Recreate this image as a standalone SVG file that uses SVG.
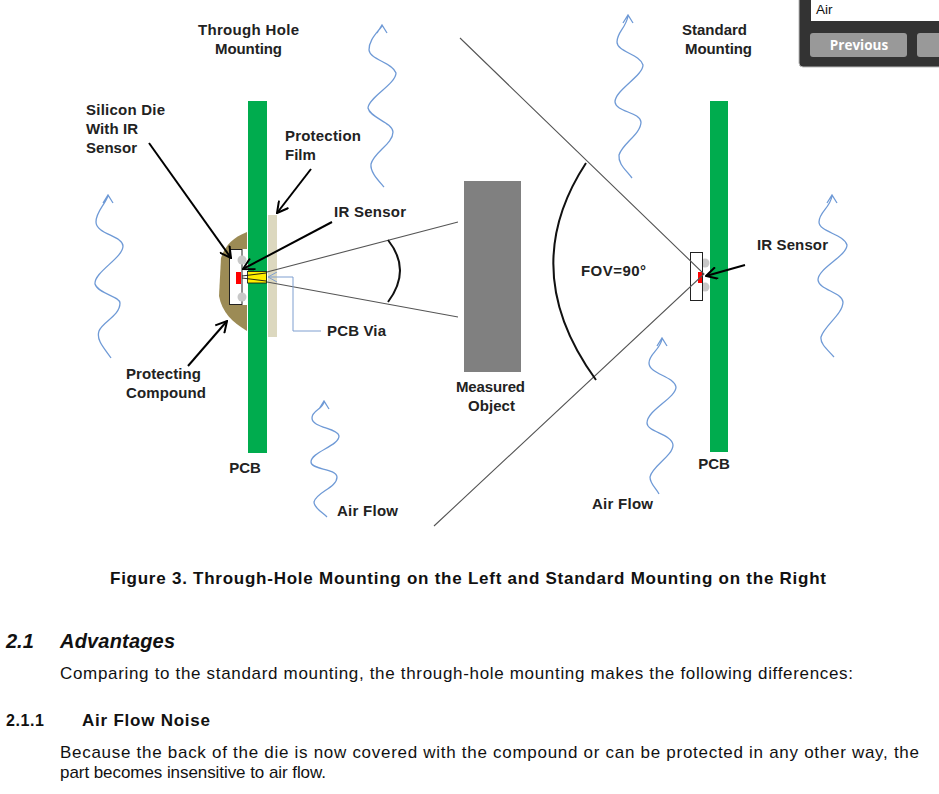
<svg xmlns="http://www.w3.org/2000/svg" width="939" height="794" viewBox="0 0 939 794">
<defs>
<marker id="big" markerWidth="13" markerHeight="13" refX="12" refY="6" orient="auto" markerUnits="userSpaceOnUse" viewBox="0 0 13 12"><path d="M1 0L12 6L1 12" fill="none" stroke="#000" stroke-width="2"/></marker>
<marker id="blue" markerWidth="11" markerHeight="11" refX="10" refY="5" orient="auto" markerUnits="userSpaceOnUse" viewBox="0 0 11 10"><path d="M1 0L10 5L1 10" fill="none" stroke="#7f9fd0" stroke-width="1"/></marker>
</defs>
<style>
text{font-family:"Liberation Sans",Arial,sans-serif;fill:#111}
.l{font-size:15px;font-weight:700;fill:#222}
.m{text-anchor:middle}
.b{font-size:17px;fill:#111}
.h{font-size:17px;font-weight:700}
.wave{fill:none;stroke:#6f9ad6;stroke-width:1.3}
.ray{fill:none;stroke:#555;stroke-width:1.1}
.arc{fill:none;stroke:#111;stroke-width:2}
.ptr{fill:none;stroke:#000;stroke-width:2;marker-end:url(#big)}
.pcb{fill:#00ac4e}
</style>
<g id="through-hole-board">
<path fill="#9c8b55" d="M247 232C232 238 225 246 221 258L219 296C222 312 232 322 247 331Z"/>
<rect x="229" y="249" width="19" height="56" fill="#fff"/>
<rect x="229.500" y="249.500" width="12.500" height="55" fill="#fff" stroke="#222" stroke-width="1"/>
<circle cx="242" cy="260" r="4.500" fill="#c8c8c8"/><circle cx="242" cy="297" r="4.500" fill="#c8c8c8"/>
<rect x="236" y="272" width="5" height="12" fill="#f00"/>
<rect class="pcb" x="248" y="101" width="19" height="352"/>
<rect x="268" y="215" width="9" height="122" fill="#dcd8bf"/>
<rect x="247.500" y="271.500" width="19" height="11.500" fill="#ffee00" stroke="#111" stroke-width="0.8"/>
<path d="M242 276L266 273M242 278L266 281" stroke="#111" fill="none" stroke-width="0.9"/>
</g>
<g id="measured-object"><rect x="464" y="181" width="57" height="191" fill="#808080"/></g>
<g id="standard-board">
<rect class="pcb" x="710" y="101" width="18" height="351"/>
<circle cx="705" cy="263" r="4.500" fill="#c8c8c8"/><circle cx="705" cy="287" r="4.500" fill="#c8c8c8"/>
<rect x="690.500" y="252.500" width="12" height="48" fill="#fff" stroke="#222" stroke-width="1"/>
<rect x="698" y="272" width="4" height="11" fill="#f00"/>
</g>
<g id="connectors">
<path class="wave" d="M111 358C104 348 96 340 99 331C102 322 120 316 120 303C120 296 98 294 95 284C94 272 123 258 123 246C123 236 96 234 96 222C96 212 104 206 108 196M103 203L108 195L113 203"/>
<path class="wave" d="M384 187C378 180 370 172 371 164C374 152 393 144 393 132C392 122 370 118 368 108C368 98 396 84 396 73C392 62 370 60 369 50C369 40 376 34 382 26M377 33L382 25L387 33"/>
<path class="wave" d="M632 178C626 170 618 164 619 155C622 144 641 134 641 122C640 112 616 112 615 102C615 90 643 76 643 65C640 54 617 52 617 42C617 32 626 28 628 16M623 23L628 15L633 23"/>
<path class="wave" d="M834 357C828 350 820 344 821 337C824 326 843 314 843 302C842 292 819 290 818 280C818 268 847 256 847 245C844 234 819 232 819 222C819 212 830 208 832 196M827 203L832 195L837 203"/>
<path class="wave" d="M327 517C322 512 314 508 314 502C316 492 337 488 337 477C336 468 311 470 311 462C311 452 339 446 339 436C338 428 312 428 312 418C312 410 322 410 324 402M319 409L324 401L329 409"/>
<path class="wave" d="M659 494C656 488 650 484 650 477C652 466 673 456 673 445C672 434 647 432 647 423C647 410 676 398 676 387C674 376 649 374 649 363C649 354 660 350 662 339M657 346L662 338L667 346"/>
<path class="ray" d="M460 38L704 274L434 526"/>
<path class="ray" d="M267 272L458 222M267 282L458 317"/>
<path class="arc" d="M388 240Q412 270 388 302"/>
<path class="arc" d="M586 163Q516 270 596 380"/>
<path class="ptr" d="M149 143L231 258"/>
<path class="ptr" d="M311 169L277 213"/>
<path class="ptr" d="M332 222L243 269"/>
<path class="ptr" d="M188 366L227 321"/>
<path class="ptr" d="M745 265L706 276"/>
<path fill="none" stroke="#7f9fd0" stroke-width="1" d="M321 331H293V277H268" marker-end="url(#blue)"/>
</g>
<g id="labels">
<text class="l" x="198" y="35" textLength="101">Through  Hole</text><text class="l" x="215" y="54" textLength="67">Mounting</text>
<text class="l" x="682" y="35" textLength="65">Standard</text><text class="l" x="685" y="54" textLength="67">Mounting</text>
<text class="l" x="86" y="115" textLength="79">Silicon  Die</text><text class="l" x="86" y="134" textLength="52">With IR</text><text class="l" x="86" y="153" textLength="51">Sensor</text>
<text class="l" x="285" y="141" textLength="76">Protection</text><text class="l" x="285" y="160">Film</text>
<text class="l" x="334" y="217" textLength="72">IR Sensor</text>
<text class="l" x="757" y="250" textLength="71">IR Sensor</text>
<text class="l" x="327" y="336" textLength="59">PCB Via</text>
<text class="l" x="581" y="276" textLength="65">FOV=90°</text>
<text class="l" x="126" y="379" textLength="75">Protecting</text><text class="l" x="126" y="398" textLength="80">Compound</text>
<text class="l" x="456" y="392" textLength="69">Measured</text><text class="l" x="468" y="411" textLength="47">Object</text>
<text class="l m" x="245" y="473">PCB</text><text class="l m" x="714" y="469">PCB</text>
<text class="l" x="337" y="516" textLength="61">Air  Flow</text><text class="l" x="592" y="509" textLength="61">Air  Flow</text>
</g>
<g id="document-text">
<text x="110" y="584" class="h" textLength="716">Figure 3. Through-Hole Mounting on the Left and Standard Mounting on the Right</text>
<text x="6" y="648" font-size="20" font-weight="700" font-style="italic">2.1</text>
<text x="60" y="648" font-size="20" font-weight="700" font-style="italic" textLength="115">Advantages</text>
<text class="b" x="60" y="679" textLength="793">Comparing to the standard mounting, the through-hole mounting makes the following differences:</text>
<text x="6" y="726" font-size="16" font-weight="700" textLength="38">2.1.1</text>
<text x="82" y="726" class="h" textLength="128">Air Flow Noise</text>
<text class="b" x="60" y="758" textLength="859">Because the back of the die is now covered with the compound or can be protected in any other way, the</text>
<text class="b" x="60" y="778" textLength="266">part becomes insensitive to air flow.</text>
</g>
<g id="popup">
<path fill="#333" stroke="#bbb" stroke-width="1" d="M799 -2H940V67H803Q799 67 799 63Z"/>
<rect x="811" y="0" width="128" height="21" fill="#fff"/>
<text x="816" y="14" font-size="13.500" font-family="Open Sans">Air</text>
<rect x="810" y="33" width="97" height="24" rx="3" fill="#999"/>
<rect x="917" y="33" width="30" height="24" rx="3" fill="#999"/>
<text x="859" y="50" font-size="13.500" font-weight="700" text-anchor="middle" style="fill:#fff;font-family:'Open Sans'">Previous</text>
</g>
</svg>
